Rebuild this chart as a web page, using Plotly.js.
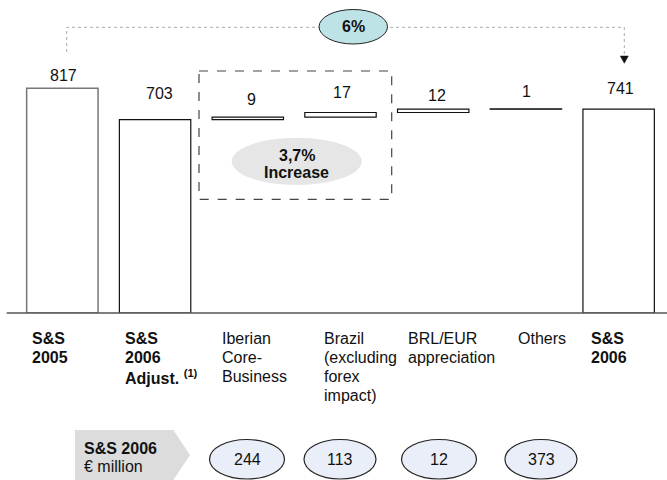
<!DOCTYPE html>
<html>
<head>
<meta charset="utf-8">
<script src="https://cdn.plot.ly/plotly-3.0.1.min.js"></script>
<style>html,body{margin:0;padding:0;background:#fff;}#chart{width:667px;height:480px;}</style>
</head>
<body>
<div id="chart"></div>
<script>
// ---- data ----
const categories = ["S&S 2005", "S&S 2006 Adjust.", "Iberian Core-Business", "Brazil (excluding forex impact)", "BRL/EUR appreciation", "Others", "S&S 2006"];
const measures = ["absolute", "absolute", "relative", "relative", "relative", "relative", "absolute"];
const values = [817, 703, 9, 17, 12, 1, 741];
const axisLabelLines = [
  ["S&amp;S", "2005"],
  ["S&amp;S", "2006", "Adjust. <sup>(1)</sup>"],
  ["Iberian", "Core-", "Business"],
  ["Brazil", "(excluding", "forex", "impact)"],
  ["BRL/EUR", "appreciation"],
  ["Others"],
  ["S&amp;S", "2006"]
];
const axisLabelBold = [true, true, false, false, false, false, true];
const sales2006Cats = ["Iberian Core-Business", "Brazil (excluding forex impact)", "BRL/EUR appreciation", "Others"];
const sales2006 = [244, 113, 12, 373];
const totalGrowth = "6%";
const coreGrowth = "3,7%";

// ---- derived bases (waterfall) ----
const bases = [];
let running = 0;
values.forEach((v, i) => {
  if (measures[i] === "absolute") { bases.push(0); running = v; }
  else { bases.push(running); running += v; }
});
const tops = values.map((v, i) => bases[i] + v);

// ---- layout helpers (pixel -> paper) ----
const L = 16, PW = 649, T = 38, PH = 275;
const px = X => (X - L) / PW;
const py = Y => (T + PH - Y) / PH;
const FONT = "Liberation Sans, Arial, Helvetica, sans-serif";

// styles
const lineColors = ["#777", "#111", "#111", "#111", "#111", "#111", "#111"];
const lineWidths = [1.5, 1.2, 1.2, 1.2, 1.2, 1.2, 1.2];
const fillColors = ["#fff", "#fff", "#fff", "#fff", "#fff", "#111", "#fff"];
const valueLabelShift = [[1.5, 13], [4, 26], [4, 18], [1.5, 20], [4, 14], [1, 17], [2, 21]];
const axisLabelShift = [-32, -32, -28, -19, -27, -10, -30];
const ellipseCenters = [247, 340, 439, 541];
const ellipseRx = [37.5, 36, 37.5, 36];

const trace = {
  type: "bar",
  x: categories,
  y: values,
  base: bases,
  width: 0.77,
  marker: { color: fillColors, line: { color: lineColors, width: lineWidths } },
  hoverinfo: "skip"
};

const annotations = [];
categories.forEach((c, i) => {
  annotations.push({
    x: c, y: tops[i], xref: "x", yref: "y",
    text: String(values[i]), showarrow: false,
    xanchor: "center", yanchor: "middle",
    xshift: valueLabelShift[i][0], yshift: valueLabelShift[i][1],
    font: { family: FONT, size: 16, color: "#111" }
  });
  axisLabelLines[i].forEach((line, k) => {
    annotations.push({
      x: c, y: py(338 + 19.3 * k), xref: "x", yref: "paper",
      text: axisLabelBold[i] ? "<b>" + line + "</b>" : line, showarrow: false, align: "left",
      xanchor: "left", yanchor: "middle", xshift: axisLabelShift[i],
      font: { family: FONT, size: 16, color: "#111" }
    });
  });
});

const shapes = [
  // baseline
  { type: "line", xref: "paper", yref: "paper", x0: px(6.7), x1: px(667), y0: py(313), y1: py(313), line: { color: "#555", width: 1.3 } },
  // dotted connector
  { type: "path", xref: "paper", yref: "paper",
    path: `M${px(66.7)},${py(52)} L${px(66.7)},${py(27.3)} L${px(624.3)},${py(27.3)} L${px(624.3)},${py(57)}`,
    line: { color: "#aaa", width: 1, dash: "dot" } },
  // arrow head
  { type: "path", xref: "paper", yref: "paper",
    path: `M${px(620.3)},${py(56)} L${px(628.3)},${py(56)} L${px(624.3)},${py(63.3)} Z`,
    fillcolor: "#111", line: { color: "#111", width: 0.5 } },
  // 6% ellipse
  { type: "circle", xref: "paper", yref: "paper", x0: px(319), x1: px(387.5), y0: py(9.5), y1: py(44),
    fillcolor: "#bee3e6", line: { color: "#222", width: 1 } },
  // dashed box
  { type: "rect", xref: "paper", yref: "paper", x0: px(199), x1: px(391.7), y0: py(71), y1: py(199.3),
    line: { color: "#444", width: 1.2, dash: "dash" } },
  // grey ellipse
  { type: "circle", xref: "paper", yref: "paper", x0: px(231.7), x1: px(361.7), y0: py(137.7), y1: py(185),
    fillcolor: "#e6e6e6", line: { width: 0 } },
  // bottom grey pentagon
  { type: "path", xref: "paper", yref: "paper",
    path: `M${px(75)},${py(430)} L${px(173.3)},${py(430)} L${px(190)},${py(455)} L${px(173.3)},${py(480)} L${px(75)},${py(480)} Z`,
    fillcolor: "#dcdcdc", line: { width: 0 } }
];

sales2006.forEach((v, i) => {
  const cx = ellipseCenters[i], rx = ellipseRx[i];
  shapes.push({ type: "circle", xref: "paper", yref: "paper", x0: px(cx - rx), x1: px(cx + rx), y0: py(439.5), y1: py(479),
    fillcolor: "#e9eef8", line: { color: "#222", width: 1.2 } });
  annotations.push({ x: px(cx), y: py(459.5), xref: "paper", yref: "paper", text: String(v), showarrow: false,
    xanchor: "center", yanchor: "middle", font: { family: FONT, size: 16, color: "#111" } });
});

annotations.push(
  { x: px(353), y: py(27), xref: "paper", yref: "paper", text: "<b>" + totalGrowth + "</b>", showarrow: false,
    xanchor: "center", yanchor: "middle", font: { family: FONT, size: 16, color: "#111" } },
  { x: px(296.7), y: py(155), xref: "paper", yref: "paper", text: "<b>" + coreGrowth + "</b>", showarrow: false,
    xanchor: "center", yanchor: "middle", font: { family: FONT, size: 16, color: "#111" } },
  { x: px(296.7), y: py(172), xref: "paper", yref: "paper", text: "<b>Increase</b>", showarrow: false,
    xanchor: "center", yanchor: "middle", font: { family: FONT, size: 16, color: "#111" } },
  { x: px(82), y: py(448), xref: "paper", yref: "paper", text: "<b>S&amp;S 2006</b>", showarrow: false,
    xanchor: "left", yanchor: "middle", font: { family: FONT, size: 16, color: "#111" } },
  { x: px(82), y: py(466), xref: "paper", yref: "paper", text: "€ million", showarrow: false,
    xanchor: "left", yanchor: "middle", font: { family: FONT, size: 16, color: "#111" } }
);

const layout = {
  width: 667, height: 480,
  margin: { l: L, r: 667 - L - PW, t: T, b: 480 - T - PH, pad: 0 },
  paper_bgcolor: "#fff", plot_bgcolor: "#fff",
  showlegend: false,
  xaxis: { type: "category", range: [-0.5, 6.5], showticklabels: false, showgrid: false, zeroline: false, showline: false, ticks: "", fixedrange: true },
  yaxis: { range: [0, 1000], visible: false, showgrid: false, zeroline: false, fixedrange: true },
  annotations: annotations,
  shapes: shapes,
  font: { family: FONT }
};

Plotly.newPlot("chart", [trace], layout, { displayModeBar: false, staticPlot: true });
</script>
</body>
</html>
